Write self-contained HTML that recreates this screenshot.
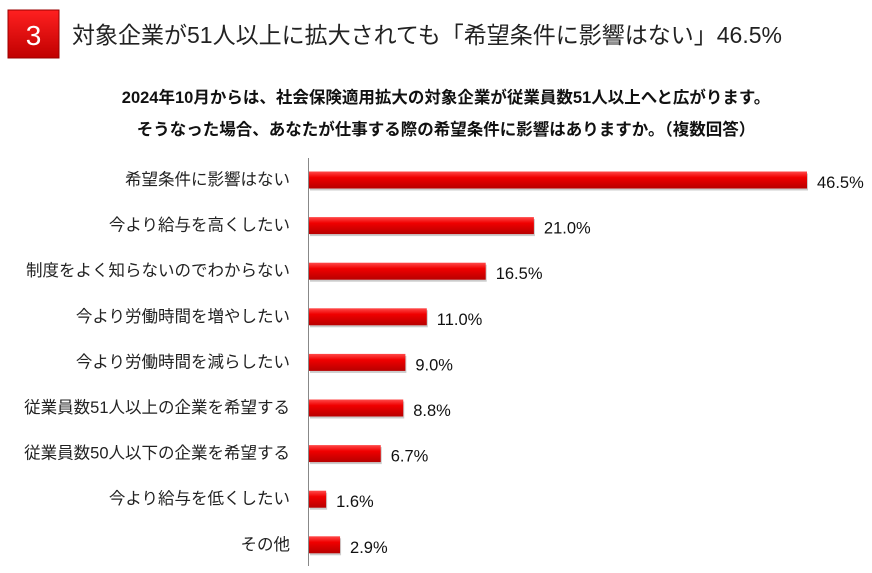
<!DOCTYPE html>
<html><head><meta charset="utf-8"><style>
body{margin:0;width:872px;height:568px;background:#fff;overflow:hidden;font-family:"Liberation Sans","Noto Sans CJK JP",sans-serif;}
</style></head><body>
<svg width="872" height="568">
<defs>
<linearGradient id="bg" x1="0" y1="0" x2="0" y2="1"><stop offset="0" stop-color="#ff4a4a"/><stop offset="0.35" stop-color="#f00000"/><stop offset="1" stop-color="#b80000"/></linearGradient>
<linearGradient id="box" x1="0" y1="0" x2="0" y2="1"><stop offset="0" stop-color="#ff2020"/><stop offset="1" stop-color="#c00000"/></linearGradient>
</defs>
<g>
<rect x="8" y="10" width="51" height="48" fill="url(#box)" stroke="#900" stroke-width="1"/>
<text x="33.5" y="45" text-anchor="middle" font-size="28" fill="#fff">3</text>
</g>
<text x="72" y="43" font-size="23" fill="#222">対象企業が51人以上に拡大されても「希望条件に影響はない」46.5%</text>
<text x="446" y="103" text-anchor="middle" font-size="16.5" font-weight="bold" fill="#111">2024年10月からは、社会保険適用拡大の対象企業が従業員数51人以上へと広がります。</text>
<text x="446" y="135" text-anchor="middle" font-size="16.5" font-weight="bold" fill="#111">そうなった場合、あなたが仕事する際の希望条件に影響はありますか。（複数回答）</text>
<line x1="308.5" y1="158" x2="308.5" y2="566" stroke="#888" stroke-width="1"/>
<g id="bars"></g>
</svg>
<script>
const categories=["希望条件に影響はない","今より給与を高くしたい","制度をよく知らないのでわからない","今より労働時間を増やしたい","今より労働時間を減らしたい","従業員数51人以上の企業を希望する","従業員数50人以下の企業を希望する","今より給与を低くしたい","その他"];
const values=[46.5,21.0,16.5,11.0,9.0,8.8,6.7,1.6,2.9];
const x0=309, pxPer=498/46.5, yTop=180, step=45.6, bh=17;
const xs=v=>v*pxPer, yc=i=>yTop+i*step;
const g=document.getElementById('bars');
const NS="http://www.w3.org/2000/svg";
categories.forEach((c,i)=>{
 const y=yc(i);
 const t=document.createElementNS(NS,'text');
 
 
 t.setAttribute('x',290);t.setAttribute('y',y+5);t.setAttribute('text-anchor','end');t.setAttribute('font-size','16.5');t.setAttribute('fill','#222');
 t.textContent=c;g.appendChild(t);
 const s=document.createElementNS(NS,'rect');
 
 
 s.setAttribute('x',x0+1);s.setAttribute('y',y-bh/2+2);s.setAttribute('width',xs(values[i]));s.setAttribute('height',bh);s.setAttribute('fill','#999');s.setAttribute('opacity','0.5');
 g.appendChild(s);
 const r=document.createElementNS(NS,'rect');
 
 
 r.setAttribute('x',x0);r.setAttribute('y',y-bh/2);r.setAttribute('width',xs(values[i]));r.setAttribute('height',bh);r.setAttribute('fill','url(#bg)');
 g.appendChild(r);
 const v=document.createElementNS(NS,'text');
 
 
 v.setAttribute('x',x0+xs(values[i])+10);v.setAttribute('y',y+8);v.setAttribute('font-size','16.5');v.setAttribute('fill','#111');
 v.textContent=values[i].toFixed(1)+'%';g.appendChild(v);
});
</script>
</body></html>
